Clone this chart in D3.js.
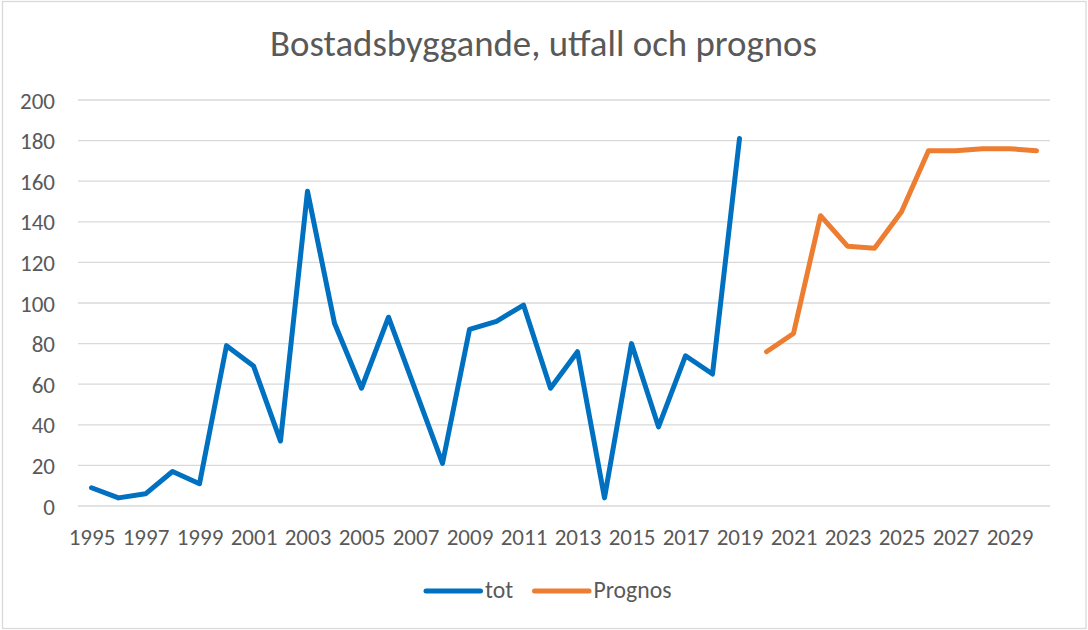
<!DOCTYPE html>
<html><head><meta charset="utf-8">
<script src="https://cdn.jsdelivr.net/npm/d3@7"></script>
<style>
body{margin:0;background:#fff;}
svg{display:block;}
text{font-family:Carlito, Calibri, "Open Sans", sans-serif;fill:#595959;}
</style></head>
<body><svg id="c" width="1088" height="630"></svg>
<script>
const years = d3.range(1995, 2031);
const totYears = d3.range(1995, 2020);
const totValues = [9,4,6,17,11,79,69,32,155,90,58,93,57,21,87,91,99,58,76,4,80,39,74,65,181];
const progYears = d3.range(2020, 2031);
const progValues = [76,85,143,128,127,145,175,175,176,176,175];
const yTicks = [0,20,40,60,80,100,120,140,160,180,200];
const xTickLabels = years.filter(y => (y - 1995) % 2 === 0);
const title = "Bostadsbyggande, utfall och prognos";
const seriesNames = ["tot", "Prognos"];
const colors = ["#0070C0", "#ED7D31"];

const svg = d3.select("#c");
svg.append("rect").attr("x",2.5).attr("y",1.5).attr("width",1083.5).attr("height",627)
  .attr("fill","#fff").attr("stroke","#d9d9d9").attr("stroke-width",1.3);

// font size fitting helper: size so that sample text has target width
function fitSize(sample, target, base){
  const t = svg.append("text").style("font-size", base+"px").text(sample);
  const w = t.node().getComputedTextLength();
  t.remove();
  return base * target / w;
}
const titleSize = fitSize(title, 547, 30);
const tickSize = fitSize("1995", 46.7, 18);
const legSize = fitSize("Prognos", 78, 18);

const x = d3.scalePoint().domain(years).range([78, 1050]).padding(0.5);
const y = d3.scaleLinear().domain([0,200]).range([506, 100]);

// gridlines
svg.append("g").selectAll("line").data(yTicks).join("line")
  .attr("x1",78).attr("x2",1050).attr("y1",d=>y(d)).attr("y2",d=>y(d))
  .attr("stroke","#d9d9d9").attr("stroke-width",1.3);

// y axis
const ya = svg.append("g").attr("transform","translate(55,0)")
  .call(d3.axisLeft(y).tickValues(yTicks).tickSize(0).tickPadding(0));
ya.select(".domain").remove();
ya.selectAll("text").style("font-size",tickSize+"px").attr("fill","#595959")
  .attr("dy","0.35em")
  .style("font-family","Carlito, Calibri, 'Open Sans', sans-serif");

// x axis
const xa = svg.append("g").attr("transform","translate(0,506)")
  .call(d3.axisBottom(x).tickValues(xTickLabels).tickSize(0).tickPadding(0));
xa.select(".domain").remove();
xa.selectAll("text").style("font-size",tickSize+"px").attr("fill","#595959")
  .attr("dy",null).attr("y",39)
  .style("font-family","Carlito, Calibri, 'Open Sans', sans-serif");

const line = d3.line().x(d=>x(d[0])).y(d=>y(d[1]));
svg.append("path").datum(totYears.map((yr,i)=>[yr,totValues[i]]))
  .attr("d",line).attr("fill","none").attr("stroke",colors[0])
  .attr("stroke-width",5).attr("stroke-linejoin","round").attr("stroke-linecap","round");
svg.append("path").datum(progYears.map((yr,i)=>[yr,progValues[i]]))
  .attr("d",line).attr("fill","none").attr("stroke",colors[1])
  .attr("stroke-width",5).attr("stroke-linejoin","round").attr("stroke-linecap","round");

svg.append("text").attr("x",543.5).attr("y",56).attr("text-anchor","middle")
  .style("font-size",titleSize+"px").text(title);

// legend
const legX = [426, 534.5];
seriesNames.forEach((n,i)=>{
  svg.append("line").attr("x1",legX[i]).attr("x2",legX[i]+54.5).attr("y1",591).attr("y2",591)
    .attr("stroke",colors[i]).attr("stroke-width",5).attr("stroke-linecap","round");
  svg.append("text").attr("x",legX[i]+59).attr("y",598).style("font-size",legSize+"px").text(n);
});
</script></body></html>
